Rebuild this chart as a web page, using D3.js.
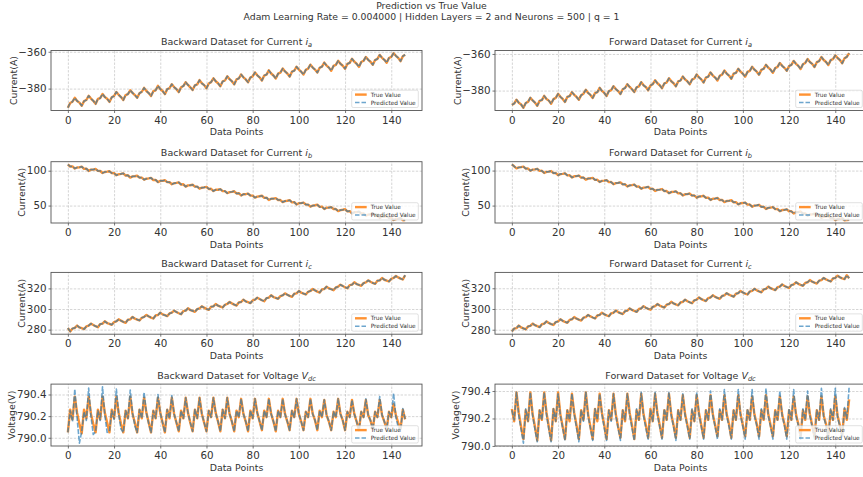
<!DOCTYPE html>
<html>
<head>
<meta charset="utf-8">
<script src="https://cdn.jsdelivr.net/npm/d3@7"></script>
<style>
  body { margin: 0; background: #fff; }
  svg { display: block; font-family: "DejaVu Sans", sans-serif; }
</style>
</head>
<body>
<div id="chart"></div>
<script>
// shared ticks / labels
const xTicks = [0, 20, 40, 60, 80, 100, 120, 140];
const iaTicks = [-380, -360];
const ibTicks = [50, 100];
const icTicks = [280, 300, 320];
const vdcTicks = [790.0, 790.2, 790.4];
const legendLabels = ["True Value", "Predicted Value"];
const supTitle = ["Prediction vs True Value",
  "Adam Learning Rate = 0.004000 | Hidden Layers = 2 and Neurons = 500 | q = 1"];

// current i_a
const bwdIaTrue = [-390.4,-387.8,-387.1,-385.0,-386.7,-387.6,-389.3,-386.8,-386.2,-383.9,-385.4,-386.6,
-388.3,-385.6,-385.2,-382.9,-384.6,-385.5,-387.2,-384.7,-384.0,-381.8,-383.4,-384.6,
-386.2,-383.5,-383.0,-380.9,-382.3,-383.5,-385.0,-382.5,-381.7,-379.6,-381.3,-382.4,
-384.0,-381.4,-380.9,-378.5,-380.2,-381.3,-383.0,-380.3,-379.8,-377.6,-379.2,-380.3,
-381.9,-379.3,-378.6,-376.5,-378.0,-379.3,-380.8,-378.2,-377.7,-375.4,-377.1,-378.1,
-379.8,-377.2,-376.5,-374.4,-376.0,-377.1,-378.7,-376.1,-375.6,-373.3,-374.9,-376.0,
-377.7,-375.0,-374.5,-372.3,-373.9,-375.0,-376.6,-374.0,-373.4,-371.2,-372.8,-373.9,
-375.6,-372.9,-372.4,-370.1,-371.8,-372.9,-374.5,-371.9,-371.3,-369.1,-370.7,-371.8,
-373.5,-370.8,-370.3,-368.1,-369.7,-370.8,-372.4,-369.8,-369.2,-367.0,-368.6,-369.7,
-371.3,-368.7,-368.1,-365.9,-367.5,-368.6,-370.3,-367.7,-367.1,-364.9,-366.5,-367.6,
-369.2,-366.6,-366.0,-363.8,-365.4,-366.5,-368.2,-365.6,-364.9,-362.8,-364.4,-365.4,
-367.1,-364.5,-363.9,-361.7,-363.3,-364.4,-366.0,-363.4,-362.8,-360.8,-362.2,-363.3,
-365.1,-362.4,-361.6];
const fwdIaTrue = [-387.8,-387.1,-385.0,-386.7,-387.6,-389.4,-386.8,-386.2,-383.9,-385.4,-386.6,-388.3,
-385.6,-385.2,-382.9,-384.6,-385.5,-387.2,-384.7,-384.0,-381.8,-383.4,-384.6,-386.2,
-383.5,-383.0,-380.9,-382.3,-383.5,-385.0,-382.5,-381.7,-379.6,-381.3,-382.4,-384.0,
-381.4,-380.9,-378.5,-380.2,-381.3,-383.0,-380.3,-379.8,-377.6,-379.2,-380.3,-381.9,
-379.3,-378.6,-376.5,-378.0,-379.3,-380.8,-378.2,-377.7,-375.4,-377.1,-378.1,-379.8,
-377.2,-376.5,-374.4,-376.0,-377.1,-378.7,-376.1,-375.6,-373.3,-374.9,-376.0,-377.7,
-375.0,-374.5,-372.3,-373.9,-375.0,-376.6,-374.0,-373.4,-371.2,-372.8,-373.9,-375.6,
-372.9,-372.4,-370.1,-371.8,-372.9,-374.5,-371.9,-371.3,-369.1,-370.7,-371.8,-373.5,
-370.8,-370.3,-368.1,-369.7,-370.8,-372.4,-369.8,-369.2,-367.0,-368.6,-369.7,-371.3,
-368.7,-368.1,-365.9,-367.5,-368.6,-370.3,-367.7,-367.1,-364.9,-366.5,-367.6,-369.2,
-366.6,-366.0,-363.8,-365.4,-366.5,-368.2,-365.6,-364.9,-362.8,-364.4,-365.4,-367.1,
-364.5,-363.9,-361.7,-363.3,-364.4,-366.0,-363.4,-362.8,-360.8,-362.2,-363.3,-365.1,
-362.4,-361.6,-359.6];

// current i_b
const bwdIbTrue = [108.9,106.0,106.2,103.1,104.6,104.8,105.8,102.7,103.0,99.7,101.5,101.6,
102.4,99.7,99.6,96.7,98.1,98.6,99.2,96.5,96.4,93.5,94.9,95.4,
96.2,93.1,93.4,90.1,91.9,92.0,92.8,90.1,90.0,87.1,88.5,89.0,
89.7,86.6,86.9,83.6,85.4,85.5,86.3,83.6,83.5,80.6,82.0,82.5,
83.3,80.2,80.5,77.2,79.0,79.1,79.9,77.2,77.1,74.2,75.6,76.1,
76.9,73.8,74.1,70.8,72.6,72.7,73.5,70.8,70.7,67.8,69.2,69.7,
70.5,67.4,67.7,64.4,66.2,66.3,67.1,64.4,64.3,61.4,62.8,63.3,
64.1,61.0,61.3,58.0,59.8,59.9,60.7,58.0,57.9,55.0,56.4,56.9,
57.7,54.6,54.9,51.6,53.4,53.5,54.2,51.5,51.4,48.5,49.9,50.4,
51.2,48.1,48.4,45.1,46.9,47.0,47.8,45.1,45.0,42.1,43.5,44.0,
44.8,41.7,42.0,38.7,40.5,40.6,41.4,38.7,38.6,35.7,37.1,37.6,
38.4,35.3,35.6,32.3,34.1,34.2,35.0,32.3,32.2,29.3,30.7,31.2,
32.0,29.0,29.4];
const fwdIbTrue = [108.7,106.1,103.2,104.5,104.9,105.7,102.8,102.9,99.8,101.4,101.7,102.5,
99.6,99.7,96.6,98.2,98.5,99.3,96.4,96.5,93.4,95.0,95.3,96.1,
93.2,93.3,90.2,91.8,92.1,92.9,90.0,90.1,87.0,88.6,88.9,89.6,
86.7,86.8,83.7,85.3,85.6,86.4,83.5,83.6,80.5,82.1,82.4,83.2,
80.3,80.4,77.3,78.9,79.2,80.0,77.1,77.2,74.1,75.7,76.0,76.8,
73.9,74.0,70.9,72.5,72.8,73.6,70.7,70.8,67.7,69.3,69.6,70.4,
67.5,67.6,64.5,66.1,66.4,67.2,64.3,64.4,61.3,62.9,63.2,64.0,
61.1,61.2,58.1,59.7,60.0,60.8,57.9,58.0,54.9,56.5,56.8,57.6,
54.7,54.8,51.7,53.3,53.6,54.3,51.4,51.5,48.4,50.0,50.3,51.1,
48.2,48.3,45.2,46.8,47.1,47.9,45.0,45.1,42.0,43.6,43.9,44.7,
41.8,41.9,38.8,40.4,40.7,41.5,38.6,38.7,35.6,37.2,37.5,38.3,
35.4,35.5,32.4,34.0,34.3,35.1,32.2,32.3,29.2,30.8,31.1,31.9,
29.1,29.4,29.8];

// current i_c
const bwdIcTrue = [281.6,278.3,281.0,281.7,283.9,282.1,281.4,280.5,283.1,283.9,285.8,284.5,
283.3,282.4,285.4,285.8,288.1,286.4,285.6,284.7,287.3,288.1,290.0,288.7,
287.5,286.6,289.6,290.0,292.3,290.6,289.8,288.9,291.5,292.3,294.2,292.9,
291.7,290.8,293.8,294.2,296.5,294.8,294.0,293.1,295.7,296.5,298.4,297.1,
295.9,295.0,298.0,298.4,300.7,299.0,298.2,297.3,299.9,300.7,302.6,301.3,
300.1,299.2,302.2,302.6,304.9,303.2,302.4,301.5,304.1,304.9,306.8,305.5,
304.3,303.4,306.4,306.8,309.1,307.4,306.6,305.7,308.3,309.1,311.0,309.7,
308.5,307.6,310.6,311.0,313.3,311.6,310.8,309.9,312.5,313.3,315.2,313.9,
312.7,311.8,314.8,315.2,317.5,315.8,315.0,314.1,316.7,317.5,319.4,318.1,
316.9,316.0,319.0,319.4,321.7,320.0,319.2,318.3,320.9,321.7,323.6,322.3,
321.1,320.2,323.2,323.6,325.9,324.2,323.4,322.5,325.1,325.9,327.8,326.5,
325.3,324.4,327.4,327.8,330.1,328.4,327.6,326.7,329.3,330.1,332.0,330.7,
329.5,328.7,332.8];
const fwdIcTrue = [278.4,281.1,281.6,284.0,282.2,281.3,280.4,283.2,283.8,285.9,284.4,283.4,
282.5,285.3,285.9,288.0,286.5,285.5,284.6,287.4,288.0,290.1,288.6,287.6,
286.7,289.5,290.1,292.2,290.7,289.7,288.8,291.6,292.2,294.3,292.8,291.8,
290.9,293.7,294.3,296.4,294.9,293.9,293.0,295.8,296.4,298.5,297.0,296.0,
295.1,297.9,298.5,300.6,299.1,298.1,297.2,300.0,300.6,302.7,301.2,300.2,
299.3,302.1,302.7,304.8,303.3,302.3,301.4,304.2,304.8,306.9,305.4,304.4,
303.5,306.3,306.9,309.0,307.5,306.5,305.6,308.4,309.0,311.1,309.6,308.6,
307.7,310.5,311.1,313.2,311.7,310.7,309.8,312.6,313.2,315.3,313.8,312.8,
311.9,314.7,315.3,317.4,315.9,314.9,314.0,316.8,317.4,319.5,318.0,317.0,
316.1,318.9,319.5,321.6,320.1,319.1,318.2,321.0,321.6,323.7,322.2,321.2,
320.3,323.1,323.7,325.8,324.3,323.3,322.4,325.2,325.8,327.9,326.4,325.4,
324.5,327.3,327.9,330.0,328.5,327.5,326.6,329.4,330.0,332.1,330.6,329.6,
328.8,332.6,329.6];

// predictions of the currents sit on top of the true values at this scale
const bwdIaPred = bwdIaTrue, fwdIaPred = fwdIaTrue;
const bwdIbPred = bwdIbTrue, fwdIbPred = fwdIbTrue;
const bwdIcPred = bwdIcTrue, fwdIcPred = fwdIcTrue;

// voltage V_dc
const bwdVTrue = [790.05,790.26,790.17,790.38,790.23,790.13,790.04,790.26,790.18,790.38,790.22,790.13,
790.05,790.26,790.17,790.38,790.23,790.14,790.05,790.26,790.18,790.38,790.23,790.13,
790.05,790.25,790.18,790.38,790.22,790.14,790.05,790.26,790.18,790.37,790.23,790.14,
790.05,790.25,790.18,790.37,790.23,790.14,790.05,790.26,790.18,790.37,790.22,790.14,
790.06,790.25,790.18,790.37,790.23,790.14,790.06,790.26,790.18,790.37,790.22,790.14,
790.06,790.25,790.19,790.37,790.23,790.15,790.06,790.26,790.18,790.37,790.22,790.15,
790.06,790.25,790.19,790.36,790.22,790.15,790.06,790.25,790.18,790.36,790.23,790.15,
790.07,790.25,790.19,790.36,790.22,790.15,790.06,790.25,790.19,790.36,790.22,790.15,
790.07,790.25,790.19,790.36,790.22,790.15,790.07,790.24,790.19,790.36,790.22,790.16,
790.07,790.25,790.19,790.35,790.21,790.15,790.07,790.24,790.19,790.36,790.22,790.16,
790.07,790.24,790.19,790.35,790.22,790.15,790.07,790.24,790.19,790.35,790.21,790.16,
790.08,790.24,790.19,790.35,790.21,790.15,790.08,790.24,790.19,790.31,790.21,790.14,
790.08,790.26,790.17];
const bwdVPred = [790.05,790.25,790.15,790.45,790.18,789.95,790.06,790.24,790.16,790.46,790.20,790.03,
790.06,790.25,790.16,790.47,790.21,790.05,790.06,790.25,790.17,790.45,790.22,790.08,
790.05,790.25,790.18,790.44,790.23,790.11,790.05,790.26,790.18,790.42,790.23,790.13,
790.05,790.25,790.18,790.40,790.23,790.14,790.05,790.26,790.18,790.39,790.22,790.14,
790.06,790.25,790.18,790.37,790.23,790.14,790.06,790.26,790.18,790.37,790.22,790.14,
790.06,790.25,790.19,790.37,790.23,790.15,790.06,790.26,790.18,790.37,790.22,790.15,
790.06,790.25,790.19,790.36,790.22,790.15,790.06,790.25,790.18,790.36,790.23,790.15,
790.07,790.25,790.19,790.36,790.22,790.15,790.06,790.25,790.19,790.36,790.22,790.15,
790.07,790.25,790.19,790.36,790.22,790.15,790.07,790.24,790.19,790.36,790.22,790.16,
790.07,790.25,790.19,790.35,790.21,790.15,790.07,790.24,790.19,790.36,790.22,790.16,
790.07,790.24,790.19,790.35,790.22,790.15,790.07,790.24,790.19,790.36,790.21,790.16,
790.08,790.24,790.19,790.38,790.21,790.15,790.08,790.24,790.19,790.41,790.19,790.10,
790.06,790.27,790.17];
const fwdVTrue = [790.27,790.18,790.39,790.24,790.14,790.05,790.26,790.18,790.39,790.23,790.14,790.04,
790.26,790.19,790.39,790.24,790.14,790.04,790.27,790.18,790.39,790.23,790.14,790.05,
790.26,790.18,790.38,790.24,790.15,790.05,790.26,790.19,790.39,790.23,790.14,790.05,
790.27,790.18,790.38,790.24,790.15,790.05,790.26,790.19,790.38,790.23,790.14,790.06,
790.26,790.18,790.38,790.24,790.15,790.05,790.26,790.19,790.38,790.23,790.15,790.06,
790.27,790.18,790.38,790.24,790.15,790.06,790.26,790.19,790.38,790.23,790.15,790.06,
790.26,790.19,790.37,790.23,790.15,790.06,790.26,790.18,790.37,790.24,790.15,790.06,
790.26,790.19,790.37,790.23,790.15,790.07,790.26,790.19,790.37,790.23,790.16,790.06,
790.26,790.19,790.37,790.23,790.15,790.07,790.26,790.19,790.36,790.23,790.16,790.07,
790.26,790.19,790.37,790.23,790.15,790.07,790.26,790.19,790.36,790.23,790.16,790.07,
790.26,790.19,790.36,790.23,790.16,790.07,790.26,790.19,790.36,790.23,790.15,790.07,
790.26,790.19,790.36,790.22,790.16,790.07,790.26,790.19,790.36,790.22,790.15,790.08,
790.27,790.19,790.34];
const fwdVPred = [790.26,790.19,790.39,790.22,790.12,790.02,790.27,790.18,790.39,790.22,790.12,790.03,
790.26,790.19,790.39,790.23,790.12,790.03,790.27,790.18,790.38,790.22,790.13,790.04,
790.26,790.19,790.38,790.23,790.13,790.03,790.26,790.18,790.39,790.22,790.13,790.04,
790.27,790.19,790.38,790.23,790.13,790.04,790.26,790.18,790.38,790.22,790.13,790.04,
790.26,790.19,790.38,790.23,790.13,790.04,790.27,790.19,790.39,790.22,790.13,790.05,
790.26,790.18,790.39,790.23,790.14,790.05,790.27,790.19,790.39,790.22,790.14,790.04,
790.26,790.19,790.38,790.22,790.14,790.05,790.27,790.18,790.39,790.23,790.14,790.05,
790.26,790.19,790.40,790.22,790.14,790.05,790.27,790.19,790.41,790.22,790.14,790.05,
790.26,790.19,790.41,790.22,790.14,790.05,790.27,790.19,790.41,790.22,790.15,790.05,
790.27,790.19,790.42,790.22,790.14,790.05,790.26,790.19,790.40,790.22,790.15,790.05,
790.27,790.19,790.41,790.22,790.15,790.05,790.27,790.19,790.40,790.22,790.14,790.05,
790.26,790.19,790.42,790.21,790.15,790.05,790.27,790.19,790.42,790.21,790.14,790.06,
790.28,790.20,790.43];

const fmtI = d3.format("d");
const fmtV = d3.format(".1f");

const panels = [
  {row: 0, col: 0, title: "Backward Dataset for Current ", sym: "i", sub: "a", yLabel: "Current(A)", yTicks: iaTicks, fmt: fmtI, trueVals: bwdIaTrue, predVals: bwdIaPred},
  {row: 0, col: 1, title: "Forward Dataset for Current ", sym: "i", sub: "a", yLabel: "Current(A)", yTicks: iaTicks, fmt: fmtI, trueVals: fwdIaTrue, predVals: fwdIaPred},
  {row: 1, col: 0, title: "Backward Dataset for Current ", sym: "i", sub: "b", yLabel: "Current(A)", yTicks: ibTicks, fmt: fmtI, trueVals: bwdIbTrue, predVals: bwdIbPred},
  {row: 1, col: 1, title: "Forward Dataset for Current ", sym: "i", sub: "b", yLabel: "Current(A)", yTicks: ibTicks, fmt: fmtI, trueVals: fwdIbTrue, predVals: fwdIbPred},
  {row: 2, col: 0, title: "Backward Dataset for Current ", sym: "i", sub: "c", yLabel: "Current(A)", yTicks: icTicks, fmt: fmtI, trueVals: bwdIcTrue, predVals: bwdIcPred},
  {row: 2, col: 1, title: "Forward Dataset for Current ", sym: "i", sub: "c", yLabel: "Current(A)", yTicks: icTicks, fmt: fmtI, trueVals: fwdIcTrue, predVals: fwdIcPred},
  {row: 3, col: 0, title: "Backward Dataset for Voltage ", sym: "V", sub: "dc", yLabel: "Voltage(V)", yTicks: vdcTicks, fmt: fmtV, trueVals: bwdVTrue, predVals: bwdVPred},
  {row: 3, col: 1, title: "Forward Dataset for Voltage ", sym: "V", sub: "dc", yLabel: "Voltage(V)", yTicks: vdcTicks, fmt: fmtV, trueVals: fwdVTrue, predVals: fwdVPred}
];

const W = 863, H = 477;
const colX = [51, 495], frameW = 371;
const rowY = [[50.5, 110.5], [161.7, 223], [272.4, 334.2], [384.1, 446]];
const textCol = "#333";
const trueColor = "#ff7f0e", predColor = "#1f77b4";

const svg = d3.select("#chart").append("svg")
    .attr("width", W).attr("height", H)
    .attr("viewBox", `0 0 ${W} ${H}`);

svg.selectAll("text.suptitle").data(supTitle).join("text")
    .attr("class", "suptitle")
    .attr("x", 431.5).attr("y", (d, i) => i === 0 ? 9.3 : 19.8)
    .attr("text-anchor", "middle").attr("font-size", 9.3).attr("fill", textCol)
    .text(d => d);

panels.forEach((p, k) => {
    const x0 = colX[p.col], x1 = x0 + frameW;
    const [y0, y1] = rowY[p.row];
    const n = p.trueVals.length;
    const xScale = d3.scaleLinear().domain([-(n - 1) * 0.05, (n - 1) * 1.05]).range([x0, x1]);
    const [lo, hi] = d3.extent(p.trueVals.concat(p.predVals));
    const pad = (hi - lo) * 0.05;
    const yScale = d3.scaleLinear().domain([lo - pad, hi + pad]).range([y1, y0]);

    const g = svg.append("g");

    // grid
    const gx = g.append("g").attr("transform", `translate(0,${y1})`)
        .call(d3.axisBottom(xScale).tickValues(xTicks).tickSize(-(y1 - y0)).tickFormat(""));
    const gy = g.append("g").attr("transform", `translate(${x0},0)`)
        .call(d3.axisLeft(yScale).tickValues(p.yTicks).tickSize(-frameW).tickFormat(""));
    [gx, gy].forEach(a => {
        a.select(".domain").remove();
        a.selectAll("line").attr("stroke", "#b8b8b8").attr("stroke-width", 0.6)
            .attr("stroke-dasharray", "2.4,1.4");
    });

    // lines
    g.append("clipPath").attr("id", "clip" + k)
        .append("rect").attr("x", x0).attr("y", y0).attr("width", frameW).attr("height", y1 - y0);
    const line = d3.line().x((d, i) => xScale(i)).y(d => yScale(d));
    const plot = g.append("g").attr("clip-path", `url(#clip${k})`);
    plot.append("path").datum(p.trueVals).attr("d", line)
        .attr("fill", "none").attr("stroke", trueColor).attr("stroke-opacity", 0.85)
        .attr("stroke-width", 2.4).attr("stroke-linejoin", "round");
    plot.append("path").datum(p.predVals).attr("d", line)
        .attr("fill", "none").attr("stroke", predColor).attr("stroke-opacity", 0.65)
        .attr("stroke-width", 1.6).attr("stroke-dasharray", "5,1.6").attr("stroke-linejoin", "round");

    // frame
    g.append("rect").attr("x", x0).attr("y", y0).attr("width", frameW).attr("height", y1 - y0)
        .attr("fill", "none").attr("stroke", "#555").attr("stroke-width", 0.9);

    // axes
    const ax = g.append("g").attr("transform", `translate(0,${y1})`)
        .call(d3.axisBottom(xScale).tickValues(xTicks).tickSize(2.5).tickPadding(3.2));
    const ay = g.append("g").attr("transform", `translate(${x0},0)`)
        .call(d3.axisLeft(yScale).tickValues(p.yTicks).tickSize(2.5).tickPadding(2).tickFormat(p.fmt));
    [ax, ay].forEach(a => {
        a.select(".domain").remove();
        a.attr("font-family", null).attr("font-size", 10.3);
        a.selectAll("line").attr("stroke", "#555").attr("stroke-width", 0.8);
        a.selectAll("text").attr("fill", textCol);
    });

    // title
    const t = g.append("text").attr("x", (x0 + x1) / 2).attr("y", y0 - 5.3)
        .attr("text-anchor", "middle").attr("font-size", 9.5).attr("fill", textCol);
    t.append("tspan").text(p.title);
    t.append("tspan").attr("font-style", "italic").text(p.sym);
    t.append("tspan").attr("font-style", "italic").attr("font-size", 6.6).attr("dy", 2).text(p.sub);

    // axis labels
    g.append("text").attr("x", (x0 + x1) / 2).attr("y", y1 + 24.5)
        .attr("text-anchor", "middle").attr("font-size", 9.4).attr("fill", textCol)
        .text("Data Points");
    const bb = ay.node().getBBox();
    const lx = x0 + bb.x - 5, ly = (y0 + y1) / 2;
    g.append("text").attr("transform", `translate(${lx},${ly}) rotate(-90)`)
        .attr("text-anchor", "middle").attr("dy", "0.35em").attr("font-size", 9.4).attr("fill", textCol)
        .text(p.yLabel);

    // legend
    const lw = 66.6, lh = 17.3;
    const lg = g.append("g").attr("transform", `translate(${x1 - 3.7 - lw},${y1 - 3 - lh})`);
    lg.append("rect").attr("width", lw).attr("height", lh).attr("rx", 1.5)
        .attr("fill", "#fff").attr("fill-opacity", 0.8)
        .attr("stroke", "#ccc").attr("stroke-width", 0.6);
    legendLabels.forEach((lab, i) => {
        const yy = 4.4 + i * 7.9;
        const hl = lg.append("line").attr("x1", 3.3).attr("x2", 15).attr("y1", yy).attr("y2", yy)
            .attr("stroke", i === 0 ? trueColor : predColor);
        if (i === 0) hl.attr("stroke-width", 2.4).attr("stroke-opacity", 0.85);
        else hl.attr("stroke-width", 1.6).attr("stroke-opacity", 0.65).attr("stroke-dasharray", "4.5,2");
        lg.append("text").attr("x", 19).attr("y", yy).attr("dy", "0.35em")
            .attr("font-size", 5.8).attr("fill", textCol).text(lab);
    });
});
</script>
</body>
</html>
